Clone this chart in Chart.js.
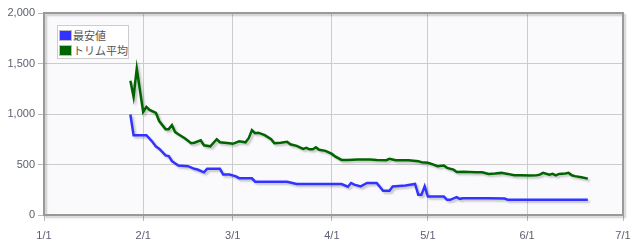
<!DOCTYPE html>
<html lang="ja">
<head>
    <meta charset="utf-8">
    <title>価格推移</title>
    <script src="https://cdn.jsdelivr.net/npm/chart.js"></script>
    <style>
        body { margin: 0; background: #fff; }
        #wrap { position: relative; width: 642px; height: 244px; }
        #legend {
            position: absolute; left: 57px; top: 25px; width: 69px; height: 31px;
            border: 1px solid #ccc; background: #fff; padding: 1px 0 0 1px;
            font-family: "Noto Sans CJK JP", sans-serif; font-size: 11px; color: #555;
        }
        .item { height: 13px; line-height: 13px; display: flex; align-items: center; margin-top: 2px; }
        .sw { width: 11px; height: 9px; border: 1px solid #bbb; padding: 0; margin-right: 1px; box-sizing: content-box; }
    </style>
</head>
<body>
<div id="wrap">
    <canvas id="priceChart" width="642" height="244"></canvas>
    <div id="legend">
        <div class="item"><span class="sw" style="background:#3333ff"></span>最安値</div>
        <div class="item"><span class="sw" style="background:#006400"></span>トリム平均</div>
    </div>
</div>
<script>
    // days counted from 1/1 (day 0)
    const tickDays = [0, 31, 59, 90, 120, 151, 181];
    const tickLabels = ['1/1', '2/1', '3/1', '4/1', '5/1', '6/1', '7/1'];

    const minDays = [27, 28, 32, 34, 35, 36, 38, 39, 40, 42, 45, 47, 48, 50, 51, 55, 56, 58, 60, 61,
        65, 66, 76, 79, 93, 95, 96, 97, 99, 101, 104, 106, 108, 109, 113, 116, 117, 118, 119, 120,
        125, 126, 127, 129, 130, 131, 139, 144, 145, 170];
    const minValues = [995, 790, 790, 720, 677, 657, 590, 583, 533, 490, 483, 457, 450, 423, 457, 457, 400, 400, 383, 365,
        363, 330, 330, 307, 307, 280, 317, 300, 283, 317, 317, 240, 240, 283, 293, 307, 200, 200, 283, 183,
        183, 150, 150, 177, 160, 165, 167, 163, 150, 150];

    const trimDays = [27, 28, 29, 31, 32, 33, 35, 36, 38, 39, 40, 41, 42, 44, 46, 47, 49, 50, 52, 54,
        55, 58, 59, 61, 63, 64, 65, 66, 67, 69, 71, 72, 74, 76, 77, 79, 81, 82, 83, 84,
        85, 86, 88, 89, 90, 91, 93, 95, 98, 102, 104, 107, 108, 110, 114, 117, 118, 120, 122, 123,
        125, 126, 128, 129, 131, 135, 137, 139, 141, 143, 145, 147, 149, 152, 154, 155, 156, 158, 159, 160,
        161, 163, 164, 165, 166, 168, 170];
    const trimValues = [1330, 1170, 1450, 1020, 1070, 1040, 1010, 930, 850, 850, 890, 820, 800, 760, 710, 715, 740, 690, 680, 750,
        720, 710, 705, 730, 720, 760, 840, 810, 815, 790, 750, 710, 715, 725, 700, 685, 655, 665, 650, 650,
        670, 645, 635, 620, 605, 580, 545, 545, 550, 550, 545, 543, 557, 543, 543, 533, 523, 517, 497, 483,
        490, 467, 450, 425, 427, 423, 423, 407, 410, 417, 407, 393, 393, 390, 393, 400, 417, 400, 407, 393,
        407, 410, 417, 393, 385, 373, 360];

    const yTicks = [0, 500, 1000, 1500, 2000];

    const toPoints = (xs, ys) => xs.map((x, i) => ({ x: x, y: ys[i] }));

    const framePlugin = {
        id: 'frame',
        beforeDraw(chart) {
            const { ctx, chartArea: a } = chart;
            ctx.save();
            ctx.fillStyle = '#fafafd';
            ctx.fillRect(a.left, a.top, a.right - a.left, a.bottom - a.top);
            ctx.restore();
        },
        beforeDatasetDraw(chart) {
            const ctx = chart.ctx;
            ctx.save();
            ctx.shadowColor = 'rgba(0,0,0,0.22)';
            ctx.shadowOffsetX = 2;
            ctx.shadowOffsetY = 2;
            ctx.shadowBlur = 2;
        },
        afterDatasetDraw(chart) {
            chart.ctx.restore();
        },
        afterDatasetsDraw(chart) {
            const { ctx, chartArea: a } = chart;
            ctx.save();
            ctx.shadowColor = 'rgba(0,0,0,0.2)';
            ctx.shadowOffsetX = 2;
            ctx.shadowOffsetY = 2;
            ctx.shadowBlur = 2;
            ctx.strokeStyle = '#999';
            ctx.lineWidth = 2;
            ctx.strokeRect(a.left, a.top, a.right - a.left, a.bottom - a.top);
            ctx.restore();
        }
    };

    const tickFont = { family: 'Liberation Sans', size: 11 };

    new Chart(document.getElementById('priceChart'), {
        type: 'line',
        data: {
            datasets: [{
                label: '最安値',
                data: toPoints(minDays, minValues),
                borderColor: '#3333ff',
                borderWidth: 2.5,
                pointRadius: 0,
                tension: 0,
                fill: false
            }, {
                label: 'トリム平均',
                data: toPoints(trimDays, trimValues),
                borderColor: '#006400',
                borderWidth: 2.5,
                pointRadius: 0,
                tension: 0,
                fill: false
            }]
        },
        options: {
            responsive: false,
            animation: false,
            layout: { padding: { top: 13, right: 19, left: 0, bottom: 0 } },
            plugins: {
                legend: { display: false },
                tooltip: { enabled: false }
            },
            scales: {
                x: {
                    type: 'linear',
                    min: 0,
                    max: 181,
                    afterBuildTicks: (scale) => { scale.ticks = tickDays.map(v => ({ value: v })); },
                    afterFit: (scale) => { scale.height = 29; },
                    ticks: {
                        autoSkip: false,
                        maxRotation: 0,
                        padding: 8,
                        color: '#5c6070',
                        font: tickFont,
                        callback: (v) => tickLabels[tickDays.indexOf(v)]
                    },
                    grid: { color: '#cccccc', tickLength: 6, tickColor: '#bbbbbb' },
                    border: { display: false }
                },
                y: {
                    min: 0,
                    max: 2000,
                    afterBuildTicks: (scale) => { scale.ticks = yTicks.map(v => ({ value: v })); },
                    afterFit: (scale) => { scale.width = 44; },
                    ticks: {
                        padding: 3,
                        color: '#5c6070',
                        font: tickFont,
                        callback: (v) => v.toLocaleString('en-US')
                    },
                    grid: { color: '#cccccc', tickLength: 6, tickColor: '#bbbbbb' },
                    border: { display: false }
                }
            }
        },
        plugins: [framePlugin]
    });
</script>
</body>
</html>
